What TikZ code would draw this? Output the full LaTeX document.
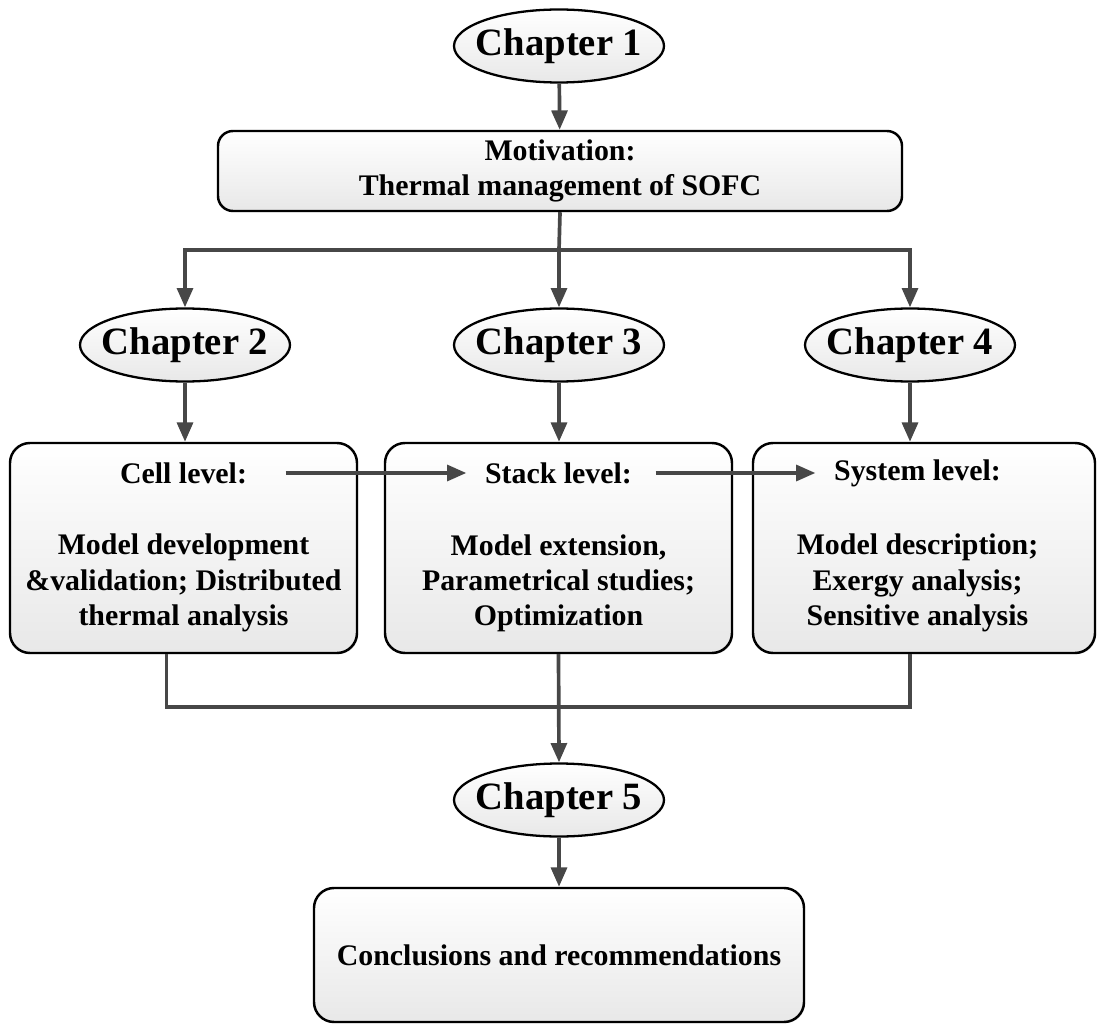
\documentclass[tikz,border=0pt]{standalone}
\usepackage{fontspec}
\setmainfont{Liberation Serif}
\usetikzlibrary{arrows.meta,shapes.geometric,shadows}

\begin{document}
\begin{tikzpicture}[
    chapter/.style={ellipse, draw, line width=1.3pt, top color=white, bottom color=black!9,
        minimum width=4.2cm, minimum height=1.46cm, inner xsep=-0.25cm, inner ysep=0pt,
        font=\fontsize{22}{26}\selectfont\bfseries},
    stagebox/.style={draw, line width=1.4pt, rounded corners=0.4cm, top color=white, bottom color=black!9,
        drop shadow={opacity=0.25, shadow xshift=0.7pt, shadow yshift=-0.7pt}},
    boxtext/.style={align=center, font=\fontsize{17}{20}\selectfont\bfseries},
    link/.style={line width=2.1pt, draw=black!72},
    flow/.style={link, -{Triangle[length=11pt,width=9pt]}}
]
    \useasboundingbox (0,0) rectangle (21.94,20.48);

    % Introduction
    \node[chapter] (ch1) at (11.18,19.56) {Chapter 1};
    \node[stagebox, boxtext, minimum width=13.68cm, minimum height=1.6cm, rounded corners=0.3cm] (motiv) at (11.2,17.06)
        {Motivation:\\Thermal management of SOFC};
    \draw[flow] (ch1) -- (motiv);

    % Three research chapters
    \node[chapter] (ch2) at (3.7,13.58) {Chapter 2};
    \node[chapter] (ch3) at (11.18,13.58) {Chapter 3};
    \node[chapter] (ch4) at (18.2,13.58) {Chapter 4};
    \coordinate (split) at (11.18,15.48);
    \draw[link] (motiv.south) -- (split);
    \draw[flow] (split) -| (ch2.north);
    \draw[flow] (split) -- (ch3.north);
    \draw[flow] (split) -| (ch4.north);

    % Cell, stack and system level
    \node[stagebox, minimum width=6.94cm, minimum height=4.2cm] (cell) at (3.67,9.52) {};
    \node[stagebox, minimum width=6.94cm, minimum height=4.2cm] (stack) at (11.17,9.52) {};
    \node[stagebox, minimum width=6.84cm, minimum height=4.2cm] (sys) at (18.48,9.52) {};
    \node[boxtext] (celltitle) at (3.67,11.02) {Cell level:};
    \node[boxtext] (stacktitle) at (11.17,11.02) {Stack level:};
    \node[boxtext] (systitle) at (18.35,11.02) {System level:};
    \node[boxtext] (cellbody) at (3.67,8.82) {Model development\\\&validation; Distributed\\thermal analysis};
    \node[boxtext] (stackbody) at (11.17,8.82) {Model extension,\\Parametrical studies;\\Optimization};
    \node[boxtext] (sysbody) at (18.35,8.82) {Model description;\\Exergy analysis;\\Sensitive analysis};
    \draw[flow] (ch2.south) -- (ch2.south |- cell.north);
    \draw[flow] (ch3.south) -- (ch3.south |- stack.north);
    \draw[flow] (ch4.south) -- (ch4.south |- sys.north);
    \draw[flow] ([xshift=0.65cm]celltitle.east) -- ([xshift=-0.25cm]stacktitle.west);
    \draw[flow] ([xshift=0.35cm]stacktitle.east) -- ([xshift=-0.25cm]systitle.west);

    % Conclusions
    \node[chapter] (ch5) at (11.18,4.48) {Chapter 5};
    \node[stagebox, boxtext, minimum width=9.8cm, minimum height=2.68cm] (concl) at (11.18,1.38)
        {Conclusions and recommendations};
    \coordinate (merge) at (11.17,6.34);
    \draw[link] ([xshift=-0.34cm]cell.south) |- (merge) -| ([xshift=-0.28cm]sys.south);
    \draw[flow] (stack.south) -- (ch5.north);
    \draw[flow] (ch5) -- (concl);
\end{tikzpicture}
\end{document}
